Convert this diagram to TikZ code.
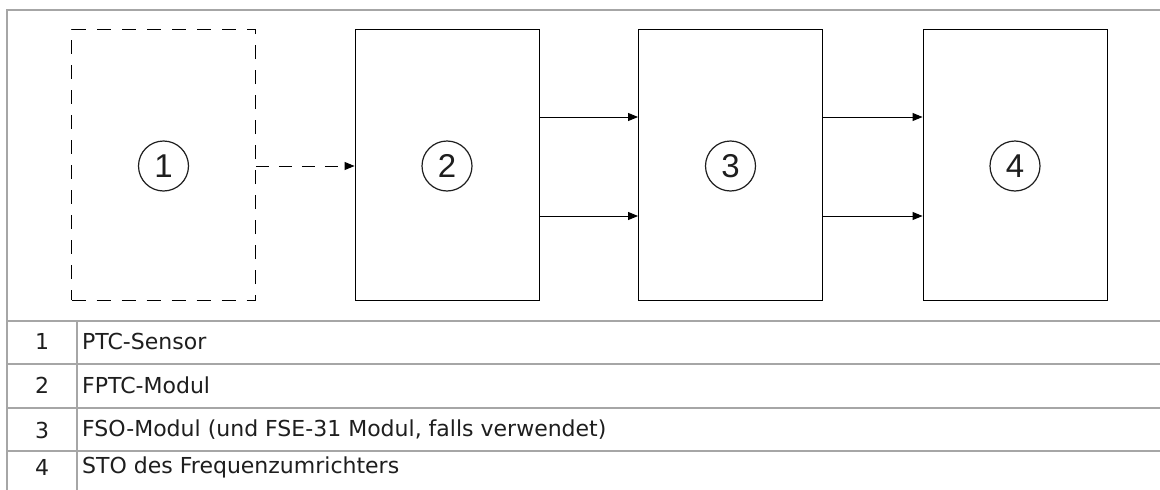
\documentclass[tikz,border=0pt]{standalone}
\usepackage{fontspec}
\setmainfont{Liberation Sans}
\newfontfamily\tabfont{DejaVu Sans}
\usetikzlibrary{arrows.meta}
\definecolor{framegray}{HTML}{A6A6A6}
\definecolor{inkgray}{HTML}{1E1E1E}
\begin{document}
\begin{tikzpicture}[x=1pt,y=-1pt,
  block/.style={draw=black,line width=0.9pt,minimum width=184pt,minimum height=271pt,inner sep=0pt},
  ghost/.style={block,dash pattern=on 14pt off 11pt},
  numcirc/.style={draw=inkgray,circle,line width=1.2pt,minimum size=50pt,inner sep=0pt,text=inkgray,font=\fontsize{33}{35}\selectfont},
  flow/.style={-{Triangle[length=10pt,width=8pt]},line width=0.9pt},
  rule/.style={draw=framegray,line width=1.6pt},
  rownum/.style={font=\tabfont\fontsize{22}{24}\selectfont,text=inkgray},
  rowtext/.style={rownum,anchor=west,inner sep=0pt}]
\useasboundingbox (0,0) rectangle (1160,490);
\fill[white] (0,0) rectangle (1160,490);
% frame and table rules
\draw[rule] (1160,10) -- (7,10) -- (7,490);
\draw[rule] (7,321) -- (1160,321);
\draw[rule] (7,364) -- (1160,364);
\draw[rule] (7,408) -- (1160,408);
\draw[rule] (7,451) -- (1160,451);
\draw[rule] (77,321) -- (77,490);
% blocks
\node[ghost] (b1) at (163.5,164.5) {};
\node[block] (b2) at (447,164.5) {};
\node[block] (b3) at (730.5,164.5) {};
\node[block] (b4) at (1015,164.5) {};
\node[numcirc] (c1) at (163.5,166) {1};
\node[numcirc] (c2) at (447,166) {2};
\node[numcirc] (c3) at (730.5,166) {3};
\node[numcirc] (c4) at (1015,166) {4};
% connections
\draw[flow,dash pattern=on 13pt off 10pt] ([yshift=-1.5pt]b1.east) -- ([yshift=-1.5pt]b2.west);
\draw[flow] ([yshift=47.5pt]b2.east) -- ([yshift=47.5pt]b3.west);
\draw[flow] ([yshift=-51.5pt]b2.east) -- ([yshift=-51.5pt]b3.west);
\draw[flow] ([yshift=47.5pt]b3.east) -- ([yshift=47.5pt]b4.west);
\draw[flow] ([yshift=-51.5pt]b3.east) -- ([yshift=-51.5pt]b4.west);
% legend
\node[rownum] (n1) at (42,341.5) {1};
\node[rownum] (n2) at (42,385.5) {2};
\node[rownum] (n3) at (42,430) {3};
\node[rownum] (n4) at (42,467.5) {4};
\node[rowtext] (t1) at (82,341.5) {PTC-Sensor};
\node[rowtext] (t2) at (82,385.5) {FPTC-Modul};
\node[rowtext] (t3) at (82,430) {FSO-Modul (und FSE-31 Modul, falls verwendet)};
\node[rowtext] (t4) at (82,467.5) {STO des Frequenzumrichters};
\end{tikzpicture}
\end{document}
